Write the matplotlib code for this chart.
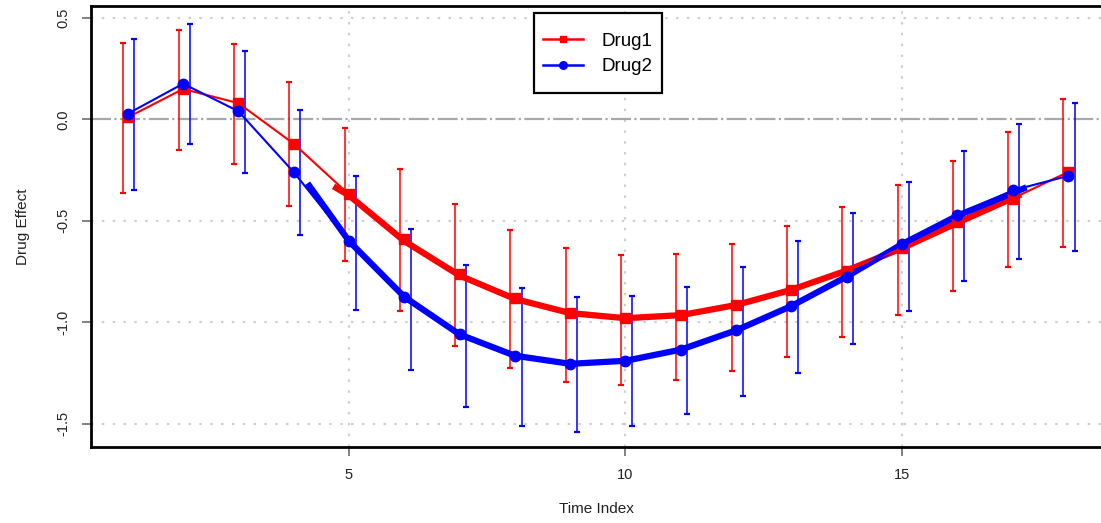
import matplotlib
matplotlib.use("Agg")
import matplotlib.pyplot as plt
from matplotlib.patches import Rectangle
from matplotlib.lines import Line2D

plt.rcParams['font.family'] = ['Liberation Sans', 'DejaVu Sans']

# data
time_idx = list(range(1, 19))
drug1 = [0.01, 0.15, 0.08, -0.12, -0.37, -0.59, -0.76, -0.88, -0.955, -0.98,
         -0.965, -0.915, -0.84, -0.745, -0.635, -0.505, -0.39, -0.26]
drug1_hi = [0.376, 0.442, 0.373, 0.184, -0.043, -0.246, -0.419, -0.547, -0.632, -0.67,
            -0.662, -0.612, -0.527, -0.432, -0.325, -0.205, -0.063, 0.102]
drug1_lo = [-0.363, -0.149, -0.218, -0.429, -0.70, -0.944, -1.118, -1.228, -1.297, -1.31,
            -1.286, -1.238, -1.171, -1.075, -0.962, -0.847, -0.728, -0.629]

drug2 = [0.028, 0.176, 0.04, -0.26, -0.60, -0.875, -1.06, -1.167, -1.207, -1.19,
         -1.135, -1.04, -0.92, -0.777, -0.612, -0.473, -0.35, -0.279]
drug2_hi = [0.394, 0.468, 0.335, 0.044, -0.279, -0.539, -0.719, -0.829, -0.878, -0.872,
            -0.826, -0.73, -0.601, -0.46, -0.309, -0.154, -0.023, 0.08]
drug2_lo = [-0.346, -0.123, -0.263, -0.571, -0.941, -1.233, -1.418, -1.51, -1.54, -1.51,
            -1.45, -1.362, -1.249, -1.105, -0.946, -0.797, -0.686, -0.649]

# thick smoothed trend lines
smooth1_x = [4.72, 5, 6, 7, 8, 9, 10, 11, 12, 13, 14, 15, 16, 17.15]
smooth1_y = [-0.33, -0.375, -0.60, -0.77, -0.885, -0.955, -0.98, -0.965, -0.915,
             -0.84, -0.745, -0.635, -0.51, -0.37]
smooth2_x = [4.25, 5, 6, 7, 8, 9, 10, 11, 12, 13, 14, 15, 16, 17.25]
smooth2_y = [-0.315, -0.60, -0.875, -1.06, -1.165, -1.205, -1.19, -1.135, -1.04,
             -0.92, -0.775, -0.615, -0.475, -0.335]

x_ticks = [5, 10, 15]
y_ticks = [-1.5, -1.0, -0.5, 0.0, 0.5]

RED = '#ff0000'
BLUE = '#0000ff'

W, H = 1101, 523
fig = plt.figure(figsize=(W / 100, H / 100), dpi=100)
ax = fig.add_axes([91 / W, (H - 447) / H, (W - 91) / W, (447 - 6) / H])

# grid
for xv in x_ticks:
    ax.axvline(xv, color='#cfcfcf', lw=1.5, dashes=(1.2, 4), zorder=0)
for yv in y_ticks:
    if yv != 0:
        ax.axhline(yv, color='#cfcfcf', lw=1.5, dashes=(1.2, 4), zorder=0)
ax.axhline(0, color='#a8a8a8', lw=1.6, dashes=(9, 1.5, 1, 1.5), zorder=0.5)

# error bars (slightly jittered)
x1e = [t - 0.08 for t in time_idx]
x2e = [t + 0.12 for t in time_idx]
ax.errorbar(x1e, drug1, yerr=[[m - l for m, l in zip(drug1, drug1_lo)],
                              [h - m for m, h in zip(drug1, drug1_hi)]],
            fmt='none', ecolor=RED, elinewidth=1.1, capsize=2.3, capthick=1.6, zorder=2)
ax.errorbar(x2e, drug2, yerr=[[m - l for m, l in zip(drug2, drug2_lo)],
                              [h - m for m, h in zip(drug2, drug2_hi)]],
            fmt='none', ecolor=BLUE, elinewidth=1.1, capsize=2.3, capthick=1.6, zorder=2)

# thick trend lines
ax.plot(smooth1_x, smooth1_y, color=RED, lw=4.5, solid_capstyle='butt', zorder=3)
ax.plot(smooth2_x, smooth2_y, color=BLUE, lw=4.5, solid_capstyle='butt', zorder=3)

# main series
ax.plot(time_idx, drug1, color=RED, lw=1.5, marker='s', ms=7.5, zorder=4)
ax.plot(time_idx, drug2, color=BLUE, lw=1.5, marker='o', ms=7.5, zorder=5)

ax.set_xlim((91 - 72.5) / 55.3, (W - 72.5) / 55.3)
ax.set_ylim(-1.615, 0.559)

ax.set_xticks(x_ticks)
ax.set_xticklabels([str(v) for v in x_ticks])
ax.set_yticks(y_ticks)
ax.set_yticklabels(['%.1f' % v for v in y_ticks], rotation=90, va='center')
ax.tick_params(axis='both', direction='out', length=6.5, width=1.3, color='#777777',
               labelsize=10.5, labelcolor='#222222')
ax.tick_params(axis='x', pad=8.5)
ax.tick_params(axis='y', pad=8.5)

for side in ['left', 'top', 'bottom']:
    ax.spines[side].set_linewidth(2)
    ax.spines[side].set_color('black')
ax.spines['right'].set_visible(False)

ax.set_xlabel('Time Index', fontsize=11, color='#222222')
ax.set_ylabel('Drug Effect', fontsize=11, color='#222222')
ax.xaxis.set_label_coords(0.5, (447 - 502) / 441)
ax.yaxis.set_label_coords((30 - 91) / 1010, 0.5)

# legend with R-style box
handles = [Line2D([], [], color=RED, lw=1.8, marker='s', ms=5),
           Line2D([], [], color=BLUE, lw=1.8, marker='o', ms=5.5)]
leg = fig.legend(handles, ['Drug1', 'Drug2'], loc='center',
                 bbox_to_anchor=(598 / W, 1 - 54 / H), frameon=False,
                 fontsize=13.5, handlelength=2.1, handletextpad=1.0,
                 labelspacing=0.45, borderpad=0)
fig.patches.append(Rectangle((534 / W, 1 - 93 / H), 128 / W, 80 / H,
                             transform=fig.transFigure, fill=True,
                             facecolor='white', edgecolor='black', lw=1.6, zorder=5))
leg.set_zorder(6)

fig.savefig('out.png', dpi=100)
